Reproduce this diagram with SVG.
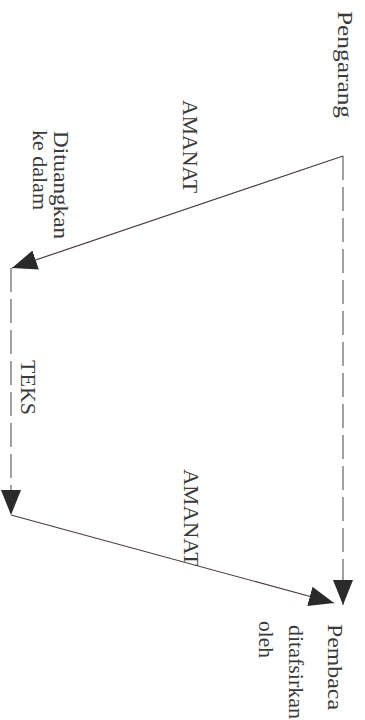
<svg xmlns="http://www.w3.org/2000/svg" width="365" height="720" viewBox="0 0 365 720">
<style>
  text { font-family: "Liberation Serif", "Times New Roman", serif; font-size: 21px; fill: #3a3a3a; }
  .solid { stroke: #4a3c3c; stroke-width: 1.2; fill: none; }
  .dash { stroke: #555; stroke-width: 1.1; fill: none; stroke-dasharray: 24 7; }
</style>
<defs>
  <marker id="arr" markerUnits="userSpaceOnUse" markerWidth="26" markerHeight="20" refX="25" refY="10" orient="auto">
    <path d="M0,0 L25,10 L0,20 z" fill="#2a2a2a"/>
  </marker>
</defs>
<rect width="365" height="720" fill="#ffffff"/>
<g id="connectors">
  <line class="solid" x1="343" y1="156" x2="12" y2="268" marker-end="url(#arr)"/>
  <line class="dash" x1="343" y1="156" x2="343" y2="605" marker-end="url(#arr)"/>
  <line class="dash" x1="11" y1="268" x2="11" y2="515" marker-end="url(#arr)"/>
  <line class="solid" x1="11" y1="515" x2="334" y2="603" marker-end="url(#arr)"/>
</g>
<g id="pengarang">
  <text transform="translate(338,11) rotate(90)" textLength="107" lengthAdjust="spacingAndGlyphs">Pengarang</text>
</g>
<g id="amanat1">
  <text transform="translate(183,100) rotate(90)" textLength="93" lengthAdjust="spacingAndGlyphs">AMANAT</text>
</g>
<g id="dituangkan">
  <text transform="translate(54,131) rotate(90)" textLength="108" lengthAdjust="spacingAndGlyphs">Dituangkan</text>
  <text transform="translate(33,130) rotate(90)" textLength="80" lengthAdjust="spacingAndGlyphs">ke dalam</text>
</g>
<g id="teks">
  <text transform="translate(21,360) rotate(90)" textLength="55" lengthAdjust="spacingAndGlyphs">TEKS</text>
</g>
<g id="amanat2">
  <text transform="translate(184,469) rotate(90)" textLength="97" lengthAdjust="spacingAndGlyphs">AMANAT</text>
</g>
<g id="pembaca">
  <text transform="translate(328,624) rotate(90)" textLength="86" lengthAdjust="spacingAndGlyphs">Pembaca</text>
</g>
<g id="ditafsirkan">
  <text transform="translate(289,625) rotate(90)" textLength="94" lengthAdjust="spacingAndGlyphs">ditafsirkan</text>
  <text transform="translate(259,621) rotate(90)" textLength="37" lengthAdjust="spacingAndGlyphs">oleh</text>
</g>
</svg>
